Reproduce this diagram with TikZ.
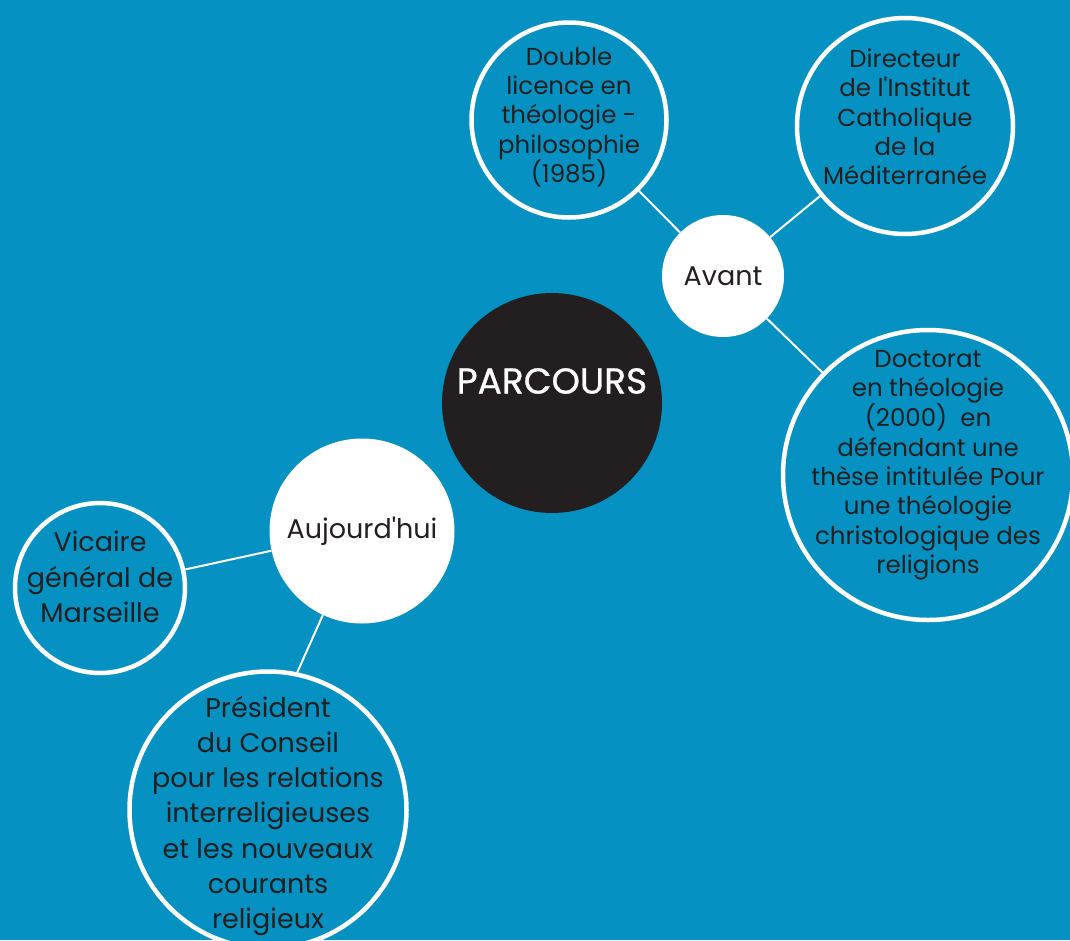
\documentclass[tikz,border=0pt]{standalone}
\usepackage{fontspec}
\setmainfont{Poppins}
\newfontfamily\titrefont{Poppins}[FakeBold=0.8]
\usetikzlibrary{positioning}

\definecolor{fond}{HTML}{0592C2}
\definecolor{encre}{HTML}{231F20}

\begin{document}
\begin{tikzpicture}[x=1pt, y=-1pt,
    bulle/.style={circle, draw=white, line width=4.5pt, fill=fond, inner sep=0pt},
    texte/.style={text=encre, align=center, font=\fontsize{24.5}{29.3}\selectfont},
    grand/.style={text=encre, align=center, font=\fontsize{27}{35.3}\selectfont},
    etape/.style={circle, fill=white, text=encre, inner sep=0pt, font=\fontsize{27}{32}\selectfont},
    lien/.style={draw=white, line width=2pt}]
 	 % Background
 	 \fill[fond] (0,0) rectangle (1070,940);
 	 \useasboundingbox (0,0) rectangle (1070,940);

 	 % Centre
 	 \node[circle, fill=encre, minimum size=220pt, inner sep=0pt,
 	   label={[white, font=\titrefont\fontsize{36}{40}\selectfont, yshift=22pt]center:PARCOURS}] (parcours) at (552,403) {};

 	 % Avant / Aujourd'hui
 	 \node[etape, minimum size=122pt] (avant) at (723,276) {Avant};
 	 \node[etape, minimum size=185pt] (aujourdhui) at (362,531) {Aujourd\textquotesingle hui};

 	 % Avant
 	 \node[bulle, minimum size=195pt,
 	   label={[texte, yshift=3pt]center:{Double\\licence en\\théologie -\\philosophie\\(1985)}}] (licence) at (569,120) {};
 	 \node[bulle, minimum size=216pt,
 	   label={[texte, yshift=9pt]center:{Directeur\\de l\textquotesingle Institut\\Catholique\\de la\\Méditerranée}}] (institut) at (905,126) {};
 	 \node[bulle, minimum size=290pt,
 	   label={[texte, yshift=10pt]center:{Doctorat\\en théologie\\(2000)\ \ en\\défendant une\\thèse intitulée Pour\\une théologie\\christologique des\\religions}}] (doctorat) at (928,475) {};

 	 % Aujourd'hui
 	 \node[bulle, minimum size=170pt,
 	   label={[grand, yshift=11pt]center:{Vicaire\\général de\\Marseille}}] (vicaire) at (100,588) {};
 	 \node[bulle, minimum size=277pt,
 	   label={[grand, yshift=-6pt]center:{Président\\du Conseil\\pour les relations\\interreligieuses\\et les nouveaux\\courants\\religieux}}] (president) at (268,810) {};

 	 % Links
 	 \draw[lien] (licence) -- (avant);
 	 \draw[lien] (institut) -- (avant);
 	 \draw[lien] (doctorat) -- (avant);
 	 \draw[lien] (vicaire) -- (aujourdhui);
 	 \draw[lien] (president.78) -- (aujourdhui.245);
\end{tikzpicture}
\end{document}
